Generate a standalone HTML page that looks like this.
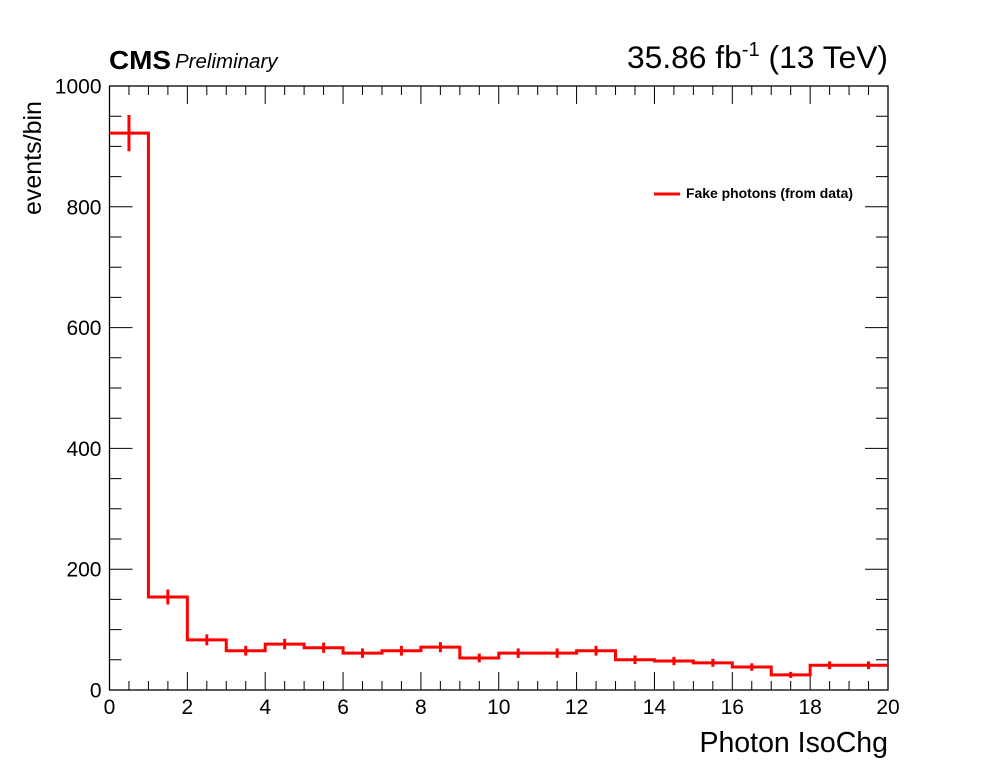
<!DOCTYPE html>
<html><head><meta charset="utf-8"><style>
body{margin:0;background:#fff;}
svg{display:block;font-family:"Liberation Sans",sans-serif;}
</style></head><body>
<svg id="c" width="998" height="776">
<text x="109" y="69" font-size="26" font-weight="bold" textLength="62" lengthAdjust="spacingAndGlyphs">CMS</text>
<text x="175" y="68" font-size="20.5" font-style="italic">Preliminary</text>
<text x="888" y="68" font-size="31.5" text-anchor="end" textLength="261" lengthAdjust="spacingAndGlyphs">35.86 fb<tspan dy="-12" font-size="20">-1</tspan><tspan dy="12"> (13 TeV)</tspan></text>
<text transform="translate(41,215) rotate(-90)" font-size="25">events/bin</text>
<text x="888" y="752" font-size="28.5" text-anchor="end">Photon IsoChg</text>
<g id="axes"></g>
<g id="hist"></g>
<g>
<line x1="654" y1="194" x2="680" y2="194" stroke="#f00" stroke-width="3"/>
<text x="686" y="198" font-size="13.5" font-weight="bold" textLength="167" lengthAdjust="spacingAndGlyphs">Fake photons (from data)</text>
</g>
</svg>
<script>
const binEdgesMin = 0, binWidth = 1;
const counts = [922,154,83,65,76,70,61,65,71,53,61,61,65,50,48,45,38,25,41,41];
const errors = [30,12.4,9.1,8.1,8.7,8.4,7.8,8.1,8.4,7.3,7.8,7.8,8.1,7.1,6.9,6.7,6.2,5,6.4,6.4];
const xTicks = [0,2,4,6,8,10,12,14,16,18,20];
const yTicks = [0,200,400,600,800,1000];
const L=109.5,R=888,T=86,B=690,xMax=20,yMax=1000;
const X=v=>L+(R-L)*v/xMax, Y=v=>B-(B-T)*v/yMax;
const NS='http://www.w3.org/2000/svg';
function mk(tag,attrs,parent){const e=document.createElementNS(NS,tag);for(const k in attrs)e.setAttribute(k,attrs[k]);parent.appendChild(e);return e;}
const ax=document.getElementById('axes'), h=document.getElementById('hist');
const fr=mk('rect',{x:L,y:T,width:R-L,height:B-T,fill:'none',stroke:'#000','stroke-width':1.3},ax);


for(let v=0;v<=xMax+1e-9;v+=0.5){const maj=Math.abs(v%2)<1e-9;const len=maj?18:9;
 const t=mk('path',{d:`M${X(v)},${B}v${-len}M${X(v)},${T}v${len}`,stroke:'#000','stroke-width':1},ax);
 
 }
for(let v=0;v<=yMax+1e-9;v+=50){const maj=Math.abs(v%200)<1e-9;const len=maj?23:12;
 const t=mk('path',{d:`M${L},${Y(v)}h${len}M${R},${Y(v)}h${-len}`,stroke:'#000','stroke-width':1},ax);
 
 }
xTicks.forEach(v=>{const t=mk('text',{x:X(v),y:B+24,'font-size':21,'text-anchor':'middle'},ax);t.textContent=v;
 
 });
yTicks.forEach(v=>{const t=mk('text',{x:L-8,y:Y(v)+7.5,'font-size':21,'text-anchor':'end'},ax);t.textContent=v;
 
 });
let d=`M${X(binEdgesMin)},${Y(counts[0])}`;
counts.forEach((c,i)=>{const x0=binEdgesMin+i*binWidth;d+=`V${Y(c)}H${X(x0+binWidth)}`;});
const p=mk('path',{d:d,fill:'none',stroke:'#f00','stroke-width':3},h);


counts.forEach((c,i)=>{const xc=X(binEdgesMin+(i+0.5)*binWidth);
 const e=mk('path',{d:`M${xc},${Y(c+errors[i])}V${Y(c-errors[i])}`,stroke:'#f00','stroke-width':3},h);
 
 });
</script>
</body></html>
